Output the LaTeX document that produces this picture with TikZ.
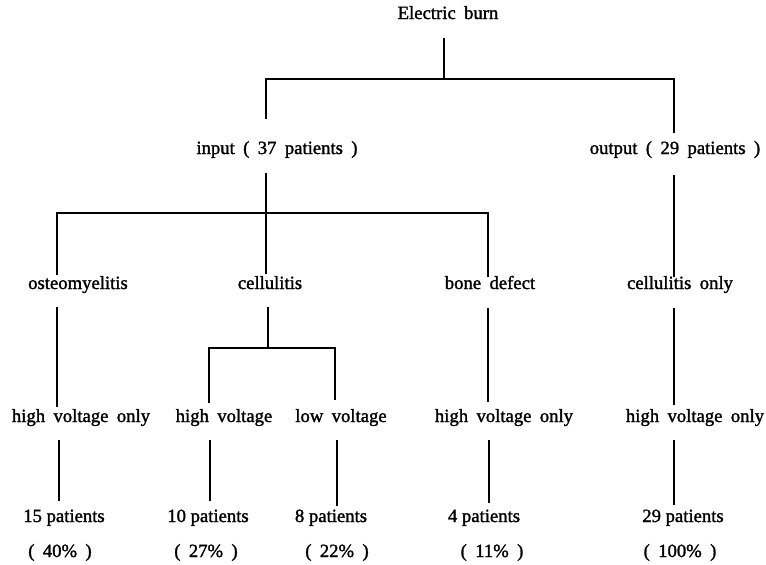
\documentclass[tikz,border=0pt]{standalone}
\usepackage{fontspec}
\setmainfont{Liberation Serif}
\newfontfamily\lblfont[FakeBold=1.5]{Liberation Serif}
\newcommand{\gapw}{\hspace{0.45em}}
\begin{document}
\begin{tikzpicture}[x=0.75pt,y=-0.75pt,
  lbl/.style={inner sep=0pt,anchor=base,font=\lblfont\fontsize{14}{16}\selectfont},
  conn/.style={line width=2pt,line cap=butt}]
\useasboundingbox (0,0) rectangle (766,564);
% text nodes (at baselines)
\node[lbl] (burn) at (448,19) {Electric\gapw burn};
\node[lbl] (input) at (277,154) {input\gapw (\gapw 37\gapw patients\gapw )};
\node[lbl] (output) at (675,154) {output\gapw (\gapw 29\gapw patients\gapw )};
\node[lbl] (osteo) at (78,289) {osteomyelitis};
\node[lbl] (cell) at (270,289) {cellulitis};
\node[lbl] (bone) at (490,289) {bone\gapw defect};
\node[lbl] (cellonly) at (680,289) {cellulitis\gapw only};
\node[lbl] (hvA) at (81,422) {high\gapw voltage\gapw only};
\node[lbl] (hvB) at (224,422) {high\gapw voltage};
\node[lbl] (lvC) at (341,422) {low\gapw voltage};
\node[lbl] (hvD) at (504,422) {high\gapw voltage\gapw only};
\node[lbl] (hvE) at (695,422) {high\gapw voltage\gapw only};
\node[lbl] (pA) at (64,522) {15 patients};
\node[lbl] (pB) at (208,522) {10 patients};
\node[lbl] (pC) at (331,522) {8 patients};
\node[lbl] (pD) at (484,522) {4 patients};
\node[lbl] (pE) at (683,522) {29 patients};
\node[lbl] (rA) at (60,557) {(\gapw 40\%\gapw )};
\node[lbl] (rB) at (206,557) {(\gapw 27\%\gapw )};
\node[lbl] (rC) at (337,557) {(\gapw 22\%\gapw )};
\node[lbl] (rD) at (492,557) {(\gapw 11\%\gapw )};
\node[lbl] (rE) at (680,557) {(\gapw 100\%\gapw )};
% coordinates
\coordinate (b0) at (444,38);
\coordinate (b1) at (444,79);
\coordinate (bL) at (266,79);
\coordinate (bR) at (674,79);
\coordinate (inT) at (266,119);
\coordinate (outT) at (674,133);
\coordinate (inB) at (266,173);
\coordinate (cellT) at (266,274);
\coordinate (iL) at (57,213);
\coordinate (iR) at (488,213);
\coordinate (osteoT) at (57,275);
\coordinate (boneT) at (488,277);
\coordinate (outB) at (674,175);
\coordinate (coT) at (674,277);
\coordinate (osteoB) at (57,307);
\coordinate (hvAT) at (57,407);
\coordinate (cellB) at (268,307);
\coordinate (cJ) at (268,348);
\coordinate (cL) at (209,348);
\coordinate (cR) at (335,348);
\coordinate (hvBT) at (209,403);
\coordinate (lvCT) at (335,400);
\coordinate (boneB) at (488,308);
\coordinate (hvDT) at (488,402);
\coordinate (coB) at (674,308);
\coordinate (hvET) at (674,405);
\coordinate (hvAB) at (59,440);
\coordinate (pAT) at (59,501);
\coordinate (hvBB) at (210,440);
\coordinate (pBT) at (210,501);
\coordinate (lvCB) at (337,440);
\coordinate (pCT) at (337,506);
\coordinate (hvDB) at (489,440);
\coordinate (pDT) at (489,503);
\coordinate (hvEB) at (674,440);
\coordinate (pET) at (674,505);
% connectors
\draw[conn] (b0) -- (b1);
\draw[conn] (inT) -- (bL) -- (bR) -- (outT);
\draw[conn] (inB) -- (cellT);
\draw[conn] (osteoT) -- (iL) -- (iR) -- (boneT);
\draw[conn] (outB) -- (coT);
\draw[conn] (osteoB) -- (hvAT);
\draw[conn] (cellB) -- (cJ);
\draw[conn] (hvBT) -- (cL) -- (cR) -- (lvCT);
\draw[conn] (boneB) -- (hvDT);
\draw[conn] (coB) -- (hvET);
\draw[conn] (hvAB) -- (pAT);
\draw[conn] (hvBB) -- (pBT);
\draw[conn] (lvCB) -- (pCT);
\draw[conn] (hvDB) -- (pDT);
\draw[conn] (hvEB) -- (pET);
\end{tikzpicture}
\end{document}
